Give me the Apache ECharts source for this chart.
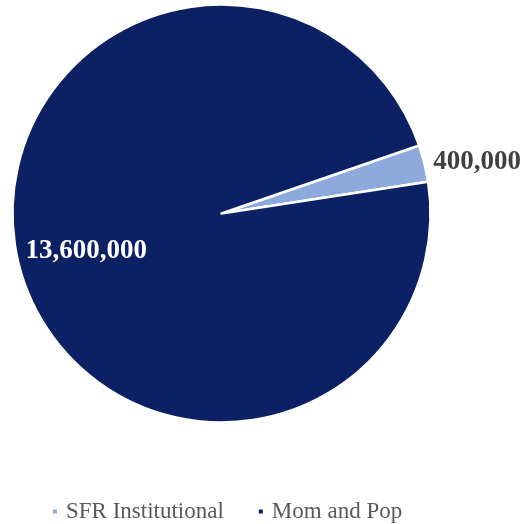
<!DOCTYPE html>
<html>
<head>
<meta charset="utf-8">
<script src="https://cdn.jsdelivr.net/npm/echarts@6/dist/echarts.min.js"></script>
<style>html,body{margin:0;padding:0;background:#fff}#c{width:521px;height:524px}</style>
</head>
<body>
<div id="c"></div>
<script>
const categories = ['SFR Institutional', 'Mom and Pop'];
const values = [400000, 13600000];
const colors = ['#8EA9DB', '#0B2163'];

const chart = echarts.init(document.getElementById('c'), null, {renderer: 'canvas'});
const fmt = v => v.toLocaleString('en-US');
chart.setOption({
  animation: false,
  color: colors,
  legend: {
    top: 495,
    left: 46,
    icon: 'rect',
    itemWidth: 6,
    itemHeight: 6,
    itemGap: 33,
    data: categories,
    textStyle: {fontFamily: 'Liberation Serif', fontSize: 23, color: '#595959', padding: [0, 0, 0, 3]}
  },
  series: [{
    type: 'pie',
    center: [221.5, 213.5],
    radius: 209,
    startAngle: 19,
    clockwise: true,
    itemStyle: {borderColor: '#fff', borderWidth: 2.5},
    labelLine: {show: false},
    data: categories.map((c, i) => ({
      name: c,
      value: values[i],
      label: i === 0 ? {
        show: true, position: 'outside', color: '#404040', overflow: 'none',
        fontFamily: 'Liberation Serif', fontWeight: 'bold', fontSize: 27,
        formatter: p => fmt(p.value)
      } : {
        show: true, position: 'inside', color: '#ffffff', overflow: 'none',
        fontFamily: 'Liberation Serif', fontWeight: 'bold', fontSize: 27,
        formatter: p => fmt(p.value)
      },
      labelLine: {show: false, length: 4, length2: 0}
    })),
    labelLayout: p => p.dataIndex === 1 ? {dx: -31, dy: 12} : {}
  }]
});
</script>
</body>
</html>
